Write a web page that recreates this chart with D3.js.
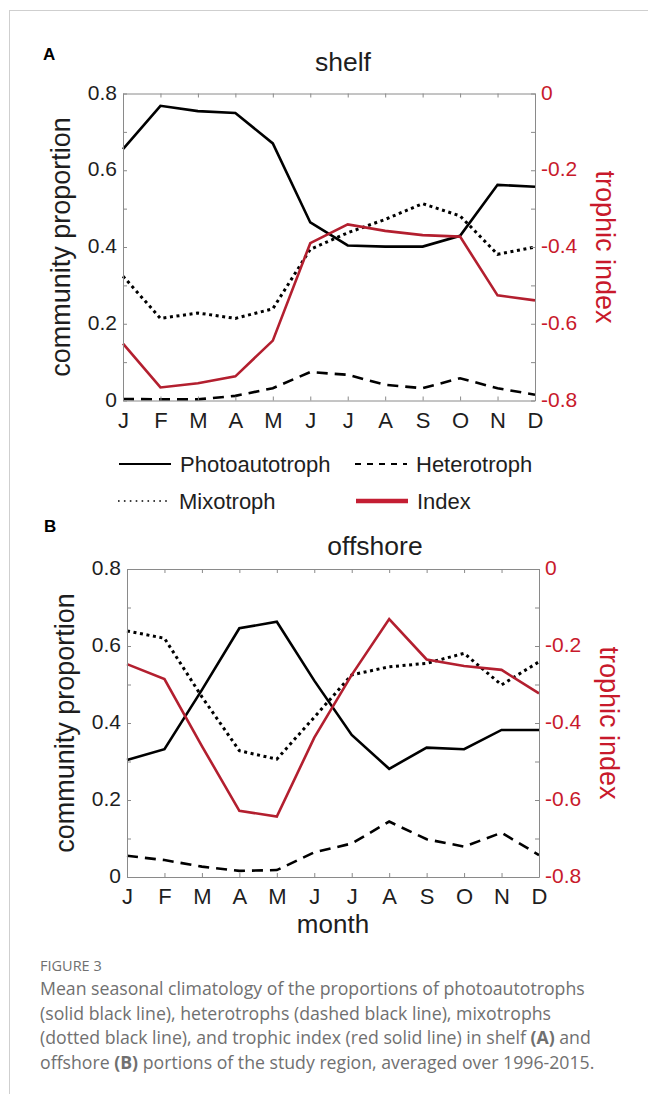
<!DOCTYPE html>
<html>
<head>
<meta charset="utf-8">
<script src="https://cdn.jsdelivr.net/npm/d3@7"></script>
<style>
  html, body { margin: 0; padding: 0; background: #fff; }
  svg { display: block; }
  text { font-family: "Liberation Sans", Arial, Helvetica, sans-serif; }
</style>
</head>
<body>
<svg id="fig" width="648" height="1094"></svg>
<script>
// Months on the x axis
const months = ["J", "F", "M", "A", "M", "J", "J", "A", "S", "O", "N", "D"];

// Left axis (community proportion) and right axis (trophic index) ticks
const propTicks = [0, 0.1, 0.2, 0.3, 0.4, 0.5, 0.6, 0.7, 0.8];
const propLabels = ["0", "", "0.2", "", "0.4", "", "0.6", "", "0.8"];
const indexTicks = [0, -0.1, -0.2, -0.3, -0.4, -0.5, -0.6, -0.7, -0.8];
const indexLabels = ["0", "", "-0.2", "", "-0.4", "", "-0.6", "", "-0.8"];

// Shelf climatology
const shelfPhoto  = [0.655, 0.768, 0.754, 0.749, 0.670, 0.464, 0.404, 0.401, 0.401, 0.429, 0.562, 0.557];
const shelfHetero = [0.004, 0.003, 0.003, 0.012, 0.032, 0.074, 0.067, 0.041, 0.032, 0.058, 0.032, 0.015];
const shelfMixo   = [0.324, 0.214, 0.228, 0.214, 0.239, 0.394, 0.437, 0.472, 0.513, 0.481, 0.381, 0.400];
const shelfIndex  = [-0.652, -0.766, -0.755, -0.737, -0.644, -0.390, -0.341, -0.358, -0.369, -0.373, -0.526, -0.539];

// Offshore climatology
const offPhoto  = [0.304, 0.332, 0.486, 0.646, 0.663, 0.510, 0.369, 0.281, 0.336, 0.332, 0.382, 0.382];
const offHetero = [0.055, 0.044, 0.027, 0.016, 0.018, 0.064, 0.087, 0.144, 0.098, 0.079, 0.115, 0.057];
const offMixo   = [0.639, 0.620, 0.468, 0.328, 0.306, 0.415, 0.525, 0.546, 0.555, 0.581, 0.499, 0.559];
const offIndex  = [-0.247, -0.286, -0.460, -0.628, -0.643, -0.438, -0.275, -0.130, -0.235, -0.252, -0.262, -0.323];

const legendNames = ["Photoautotroph", "Heterotroph", "Mixotroph", "Index"];

const RED_LINE = "#b31f2f";
const RED_TEXT = "#c8192b";
const AXIS_GREY = "#8a8a8a";
const INK = "#1e1e1e";

const svg = d3.select("#fig");

// Page frame
svg.append("line").attr("x1", 9).attr("x2", 648).attr("y1", 10.5).attr("y2", 10.5)
  .attr("stroke", "#cfcfcf").attr("stroke-width", 1);
svg.append("line").attr("x1", 9.5).attr("x2", 9.5).attr("y1", 10).attr("y2", 1094)
  .attr("stroke", "#cfcfcf").attr("stroke-width", 1);

const styles = {
  photo:  { stroke: "#000", width: 2.6, dash: null },
  hetero: { stroke: "#000", width: 2.6, dash: "11,7" },
  mixo:   { stroke: "#000", width: 3, dash: "3,3.6" },
  index:  { stroke: RED_LINE, width: 2.6, dash: null }
};

function drawPanel(p) {
  const x = d3.scaleLinear().domain([0, 11]).range([p.left, p.right]);
  const yL = d3.scaleLinear().domain([0, 0.8]).range([p.bottom, p.top]);
  const yR = d3.scaleLinear().domain([-0.8, 0]).range([p.bottom, p.top]);

  const g = svg.append("g");

  // Panel letter and title
  g.append("text").attr("x", p.letterX).attr("y", p.letterY)
    .attr("font-size", 17).attr("font-weight", "bold").attr("fill", "#000").text(p.letter);
  g.append("text").attr("x", p.titleX).attr("y", p.titleY).attr("text-anchor", "middle")
    .attr("font-size", 26.5).attr("fill", INK).text(p.title);

  // Series lines
  const series = [
    { vals: p.photo, st: styles.photo, y: yL },
    { vals: p.hetero, st: styles.hetero, y: yL },
    { vals: p.mixo, st: styles.mixo, y: yL },
    { vals: p.index, st: styles.index, y: yR }
  ];
  series.forEach(s => {
    const line = d3.line().x((d, i) => x(i)).y(d => s.y(d));
    g.append("path").datum(s.vals).attr("d", line)
      .attr("fill", "none").attr("stroke", s.st.stroke).attr("stroke-width", s.st.width)
      .attr("stroke-linejoin", "miter").attr("stroke-dasharray", s.st.dash);
  });

  const styleAxis = (sel) => {
    sel.select(".domain").attr("stroke", AXIS_GREY).attr("stroke-width", 1);
    sel.selectAll(".tick line").attr("stroke", AXIS_GREY).attr("stroke-width", 1);
  };

  // Bottom axis with month labels
  const axB = g.append("g").attr("transform", `translate(0,${p.bottom})`)
    .call(d3.axisBottom(x).tickValues(d3.range(12)).tickFormat(i => months[i])
      .tickSizeInner(-4).tickSizeOuter(0));
  styleAxis(axB);
  axB.selectAll("text").attr("y", 27).attr("dy", null).attr("font-size", 22)
    .attr("fill", INK).style("font-family", "Liberation Sans, Arial, sans-serif");

  // Top axis (ticks only)
  const axT = g.append("g").attr("transform", `translate(0,${p.top})`)
    .call(d3.axisTop(x).tickValues(d3.range(12)).tickFormat(() => "")
      .tickSizeInner(-4).tickSizeOuter(0));
  styleAxis(axT);

  // Left axis: community proportion
  const axL = g.append("g").attr("transform", `translate(${p.left},0)`)
    .call(d3.axisLeft(yL).tickValues(propTicks).tickFormat((d, i) => propLabels[i])
      .tickSizeInner(-4).tickSizeOuter(0).tickPadding(6));
  styleAxis(axL);
  axL.selectAll("text").attr("dy", "0.27em").attr("font-size", 21).attr("fill", INK)
    .style("font-family", "Liberation Sans, Arial, sans-serif");

  // Right axis: trophic index
  const axR = g.append("g").attr("transform", `translate(${p.right},0)`)
    .call(d3.axisRight(yR).tickValues(indexTicks).tickFormat((d, i) => indexLabels[i])
      .tickSizeInner(-4).tickSizeOuter(0).tickPadding(6));
  styleAxis(axR);
  axR.selectAll("text").attr("dy", "0.27em").attr("font-size", 21).attr("fill", RED_TEXT)
    .style("font-family", "Liberation Sans, Arial, sans-serif");

  // Axis titles
  const midY = (p.top + p.bottom) / 2;
  g.append("text").attr("transform", `translate(${p.left - 53},${midY}) rotate(-90)`)
    .attr("text-anchor", "middle").attr("font-size", 27).attr("fill", INK)
    .text("community proportion");
  g.append("text").attr("transform", `translate(${p.right + 61},${midY}) rotate(90)`)
    .attr("text-anchor", "middle").attr("font-size", 27).attr("fill", RED_TEXT)
    .text("trophic index");

  if (p.xTitle) {
    g.append("text").attr("x", (p.left + p.right) / 2).attr("y", p.bottom + 56)
      .attr("text-anchor", "middle").attr("font-size", 26).attr("fill", INK).text(p.xTitle);
  }
}

drawPanel({
  letter: "A", letterX: 43, letterY: 60, title: "shelf", titleX: 343, titleY: 71,
  left: 123, right: 535, top: 93.5, bottom: 400.5,
  photo: shelfPhoto, hetero: shelfHetero, mixo: shelfMixo, index: shelfIndex
});

drawPanel({
  letter: "B", letterX: 44, letterY: 532, title: "offshore", titleX: 375, titleY: 555,
  left: 127, right: 539, top: 569, bottom: 877,
  photo: offPhoto, hetero: offHetero, mixo: offMixo, index: offIndex,
  xTitle: "month"
});

// Legend
const legendItems = [
  { name: legendNames[0], st: styles.photo, x: 119, y: 464 },
  { name: legendNames[1], st: styles.hetero, x: 355, y: 464, dash: "6,6" },
  { name: legendNames[2], st: styles.mixo, x: 118, y: 501, dash: "1.6,4.3", width: 1.6 },
  { name: legendNames[3], st: styles.index, x: 356, y: 501, width: 4.5, color: "#c41e33" }
];
const lg = svg.append("g");
legendItems.forEach(it => {
  lg.append("line").attr("x1", it.x).attr("x2", it.x + 52).attr("y1", it.y).attr("y2", it.y)
    .attr("stroke", it.color || it.st.stroke)
    .attr("stroke-width", it.width || 2)
    .attr("stroke-dasharray", it.dash || it.st.dash);
  lg.append("text").attr("x", it.x + 61).attr("y", it.y + 8).attr("font-size", 22)
    .attr("fill", INK).text(it.name);
});

// Caption
const capFont = "'Open Sans', 'Noto Sans', sans-serif";
const cap = svg.append("g").attr("fill", "#707070");
cap.append("text").attr("x", 40).attr("y", 971).attr("font-size", 14.5).text("FIGURE 3")
  .style("font-family", capFont);
const capLines = [
  [["Mean seasonal climatology of the proportions of photoautotrophs", false]],
  [["(solid black line), heterotrophs (dashed black line), mixotrophs", false]],
  [["(dotted black line), and trophic index (red solid line) in shelf ", false], ["(A)", true], [" and", false]],
  [["offshore ", false], ["(B)", true], [" portions of the study region, averaged over 1996-2015.", false]]
];
capLines.forEach((parts, i) => {
  const t = cap.append("text").attr("x", 40).attr("y", 995 + i * 24.5).attr("font-size", 17.7)
    .style("font-family", capFont);
  parts.forEach(([s, bold]) => {
    t.append("tspan").attr("font-weight", bold ? "bold" : null).text(s);
  });
});
</script>
</body>
</html>
